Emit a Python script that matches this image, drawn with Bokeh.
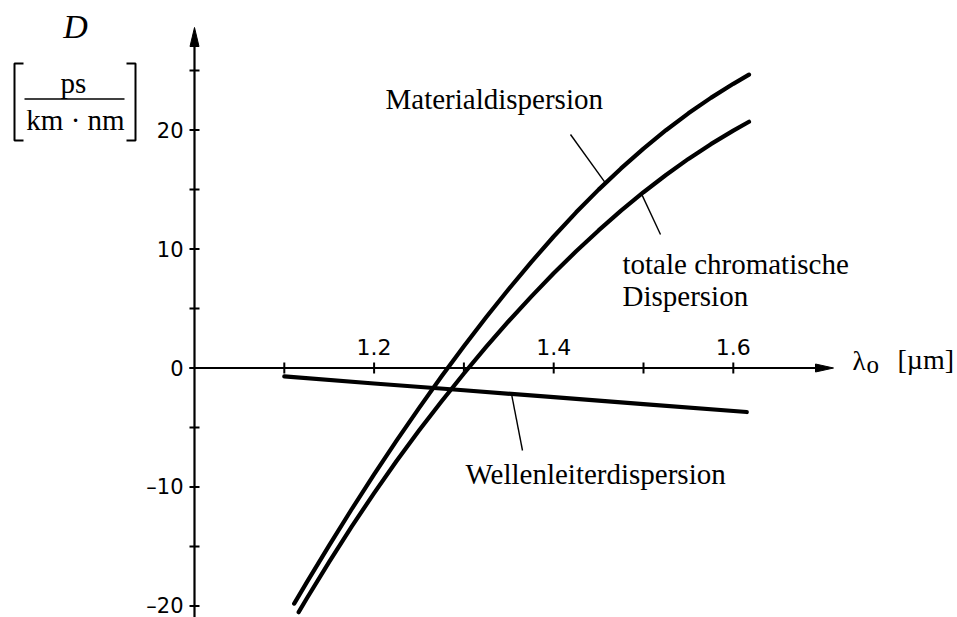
import numpy as np
from bokeh.plotting import figure
from bokeh.models import Range1d
from bokeh.core.properties import value
from bokeh.embed import file_html
from bokeh.resources import INLINE

# Chromatic dispersion of a single-mode fibre
# wavelength in µm, dispersion D in ps/(km·nm)
material_wl = [1.111, 1.125, 1.150, 1.175, 1.200, 1.225, 1.250, 1.275, 1.300, 1.325,
               1.350, 1.375, 1.400, 1.425, 1.450, 1.475, 1.500, 1.525, 1.550, 1.575,
               1.600, 1.6175]
material_d = [-19.80, -18.02, -14.90, -11.87, -8.94, -6.11, -3.37, -0.72, 1.83, 4.28,
              6.64, 8.90, 11.05, 13.08, 14.99, 16.77, 18.44, 19.98, 21.40, 22.70,
              23.88, 24.65]

total_wl = [1.116, 1.125, 1.150, 1.175, 1.200, 1.225, 1.250, 1.275, 1.300, 1.325,
            1.350, 1.375, 1.400, 1.425, 1.450, 1.475, 1.500, 1.525, 1.550, 1.575,
            1.600, 1.6175]
total_d = [-20.52, -19.37, -16.29, -13.33, -10.51, -7.82, -5.26, -2.81, -0.46, 1.79,
           3.95, 6.00, 7.96, 9.81, 11.56, 13.22, 14.77, 16.22, 17.57, 18.81,
           19.95, 20.69]

waveguide_wl = [1.100, 1.200, 1.300, 1.400, 1.500, 1.615]
waveguide_d = [-0.70, -1.30, -1.87, -2.45, -3.03, -3.70]

y_ticks = [-20, -15, -10, -5, 0, 5, 10, 15, 20, 25]
y_tick_values = [-20, -10, 0, 10, 20]
y_tick_labels = ["\u201320", "\u201310", "0", "10", "20"]
x_ticks = [1.1, 1.2, 1.3, 1.4, 1.5, 1.6]
x_tick_values = [1.2, 1.4, 1.6]
x_tick_labels = ["1.2", "1.4", "1.6"]

# canvas geometry: the λ-axis origin (λ = 1.0, D = 0) and pixel scales
W, H = 957, 617
ORIGIN_X, ORIGIN_Y = 194.0, 367.5
PX_PER_UM, PX_PER_D = 898.0, 11.9
# bokeh sets alphabetic text a little below its anchor; lift the anchors
LIFT = 9.0


def ux(px):
    """horizontal screen distance in pixels -> µm"""
    return px / PX_PER_UM


def uy(px):
    """vertical screen distance in pixels -> D units"""
    return px / PX_PER_D


def at_x(px):
    return 1.0 + (px - ORIGIN_X) / PX_PER_UM


def at_y(py):
    return (ORIGIN_Y - py) / PX_PER_D


def base_y(py):
    """anchor for a text whose baseline should sit at screen row py"""
    return at_y(py - LIFT)


p = figure(width=W, height=H, output_backend="svg", toolbar_location=None,
           x_range=Range1d(at_x(0), at_x(W)), y_range=Range1d(at_y(H), at_y(0)),
           x_axis_type=None, y_axis_type=None, min_border=0,
           background_fill_color="white", border_fill_color="white")
p.outline_line_color = None
p.grid.visible = False

INK = "black"
SANS = value("DejaVu Sans")
SERIF = value("Liberation Serif")

# ---- axes -------------------------------------------------------------
y_top, y_bottom = at_y(27), at_y(H + 2)
x_right = at_x(833)
p.segment(x0=[1.0], y0=[y_bottom], x1=[1.0], y1=[at_y(40)], line_color=INK, line_width=2.2)
p.segment(x0=[1.0 - ux(5)], y0=[0], x1=[at_x(822)], y1=[0], line_color=INK, line_width=2.0)
# arrow heads
p.patch(x=[1.0 - ux(4.5), 1.0, 1.0 + ux(4.5)], y=[at_y(46), y_top, at_y(46)],
        fill_color=INK, line_color=INK, line_width=1)
p.patch(x=[at_x(815), x_right, at_x(815)], y=[uy(4), 0, -uy(4)],
        fill_color=INK, line_color=INK, line_width=1)

# ticks crossing the axes
p.segment(x0=[1.0 - ux(5)] * len(y_ticks), y0=y_ticks,
          x1=[1.0 + ux(5)] * len(y_ticks), y1=y_ticks, line_color=INK, line_width=2)
p.segment(x0=x_ticks, y0=[-uy(5.5)] * len(x_ticks),
          x1=x_ticks, y1=[uy(5.5)] * len(x_ticks), line_color=INK, line_width=2)

p.text(x=[1.0 - ux(11)] * len(y_tick_values), y=y_tick_values, text=y_tick_labels,
       text_font=SANS, text_font_size="21px", text_align="right",
       text_baseline="middle", text_color=INK)
p.text(x=x_tick_values, y=[base_y(ORIGIN_Y - 12.5)] * len(x_tick_values), text=x_tick_labels,
       text_font=SANS, text_font_size="22px", text_align="center",
       text_baseline="alphabetic", text_color=INK)

# ---- curves -----------------------------------------------------------
for wl, d in [(material_wl, material_d), (total_wl, total_d), (waveguide_wl, waveguide_d)]:
    p.line(wl, d, line_color=INK, line_width=4.2, line_cap="round", line_join="round")

# leader lines from each curve to its caption
leaders = [
    (material_wl, material_d, 1.4577, (at_x(570), at_y(134))),
    (total_wl, total_d, 1.4978, (at_x(660), at_y(234))),
    (waveguide_wl, waveguide_d, 1.353, (at_x(522), at_y(450))),
]
lx0, ly0, lx1, ly1 = [], [], [], []
for wl, d, w0, (ex, ey) in leaders:
    lx0.append(w0)
    ly0.append(float(np.interp(w0, wl, d)))
    lx1.append(ex)
    ly1.append(ey)
p.segment(x0=lx0, y0=ly0, x1=lx1, y1=ly1, line_color=INK, line_width=1.4)

# captions
p.text(x=[at_x(385), at_x(622), at_x(622), at_x(465)],
       y=[base_y(107), base_y(272), base_y(304), base_y(482)],
       text=["Materialdispersion", "totale chromatische", "Dispersion",
             "Wellenleiterdispersion"],
       text_font=SERIF, text_font_size="29px", text_align="left",
       text_baseline="alphabetic", text_color=INK)

# x-axis title  λo [µm]
p.text(x=[at_x(852)], y=[base_y(369)], text=["\u03bb"], text_font=SERIF,
       text_font_size="27px", text_align="left", text_baseline="alphabetic", text_color=INK)
p.text(x=[at_x(866)], y=[base_y(373)], text=["o"], text_font=SERIF,
       text_font_size="25px", text_align="left", text_baseline="alphabetic", text_color=INK)
p.text(x=[at_x(897)], y=[base_y(368)], text=["[\u00b5m]"], text_font=SERIF,
       text_font_size="28px", text_align="left", text_baseline="alphabetic", text_color=INK)

# y-axis title  D [ps / (km · nm)]
p.text(x=[at_x(75)], y=[base_y(35)], text=["D"], text_font=SERIF, text_font_size="34px",
       text_font_style="italic", text_align="center", text_baseline="alphabetic",
       text_color=INK)
p.text(x=[at_x(73), at_x(75)], y=[base_y(91), base_y(128)], text=["ps", "km \u00b7 nm"],
       text_font=SERIF, text_font_size="29px", text_align="center",
       text_baseline="alphabetic", text_color=INK)
p.segment(x0=[at_x(24)], y0=[at_y(98.5)], x1=[at_x(124)], y1=[at_y(98.5)],
          line_color=INK, line_width=1.5)
p.multi_line(xs=[[at_x(23), at_x(14), at_x(14), at_x(23)],
                 [at_x(126), at_x(135), at_x(135), at_x(126)]],
             ys=[[at_y(63), at_y(63), at_y(140), at_y(140)],
                 [at_y(63), at_y(63), at_y(140), at_y(140)]],
             line_color=INK, line_width=2)

open("out.html", "w").write(file_html(p, INLINE))
